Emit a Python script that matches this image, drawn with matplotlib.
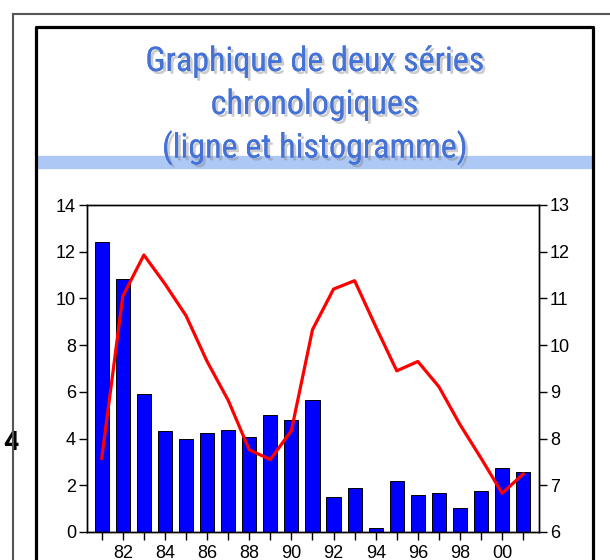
import numpy as np
import matplotlib.pyplot as plt
import matplotlib.patheffects as pe
from matplotlib.lines import Line2D
from matplotlib.patches import Rectangle

years = np.arange(1981, 2002)
bars = [12.43, 10.84, 5.90, 4.33, 3.99, 4.22, 4.36, 4.08, 5.00, 4.79, 5.65,
        1.51, 1.88, 0.17, 2.20, 1.60, 1.65, 1.03, 1.77, 2.75, 2.57]
line = [7.58, 11.05, 11.93, 11.31, 10.63, 9.65, 8.82, 7.76, 7.55, 8.17, 10.33,
        11.20, 11.38, 10.40, 9.45, 9.65, 9.11, 8.30, 7.58, 6.83, 7.24]
title_lines = ["Graphique de deux séries", "chronologiques", "(ligne et histogramme)"]

plt.rcParams['font.family'] = ['Liberation Sans', 'DejaVu Sans']
narrow = ['Liberation Sans Narrow', 'Roboto Condensed', 'DejaVu Sans']

W, H = 610, 560
fig = plt.figure(figsize=(W / 100, H / 100), dpi=100)


def fx(px):
    return px / W


def fy(py):
    return 1 - py / H


# slide frames
fig.add_artist(Line2D([fx(13), fx(13)], [fy(14), fy(600)], color='#555555', lw=1.5, zorder=5))
fig.add_artist(Line2D([fx(13), fx(650)], [fy(14), fy(14)], color='#555555', lw=1.5, zorder=5))
fig.add_artist(Line2D([fx(35.5), fx(35.5), fx(593), fx(593)],
                      [fy(600), fy(26.5), fy(26.5), fy(600)], color='black', lw=2.3, zorder=5))

# blue band under the title
fig.add_artist(Rectangle((fx(37), fy(168)), fx(591) - fx(37), fy(156) - fy(168),
                         transform=fig.transFigure, color='#AEC8F6', zorder=1))

for txt, py in zip(title_lines, [62, 105, 148]):
    fig.text(0.516, fy(py), txt, ha='center', va='center', fontsize=24.5, fontweight='normal',
             family=narrow, color='#4472D6', zorder=3,
             path_effects=[pe.withSimplePatchShadow(offset=(2, -2), shadow_rgbFace='gray', alpha=0.4),
                           pe.Normal()])

fig.text(fx(10.5), fy(443), "4", ha='center', va='center', fontsize=19, fontweight='black',
         family=['Roboto', 'DejaVu Sans'], zorder=2)

ax = fig.add_axes([fx(87), fy(532), fx(539) - fx(87), fy(205) - fy(532)])
ax.bar(years, bars, width=0.67, color='#0000FF', edgecolor='black', linewidth=0.7)
ax.set_xlim(1980.3, 2001.75)
ax.set_ylim(0, 14)
ax.set_yticks(np.arange(0, 15, 2))
ax.set_xticks(years)
ax.set_xticklabels([f"{y % 100:02d}" if y % 2 == 0 else "" for y in years])
ax.tick_params(axis='both', direction='out', length=6, width=1, labelsize=13, color='black')
ax.tick_params(axis='y', pad=2)
ax.tick_params(axis='x', pad=3)

ax2 = ax.twinx()
ax2.plot(years, line, color='#FF0000', lw=2.3)
ax2.set_ylim(6, 13)
ax2.set_yticks(np.arange(6, 14, 1))
ax2.tick_params(axis='y', direction='out', length=6, width=1, labelsize=13, pad=2)

for a in (ax, ax2):
    for s in a.spines.values():
        s.set_linewidth(1)

fig.savefig("out.png", dpi=100)
